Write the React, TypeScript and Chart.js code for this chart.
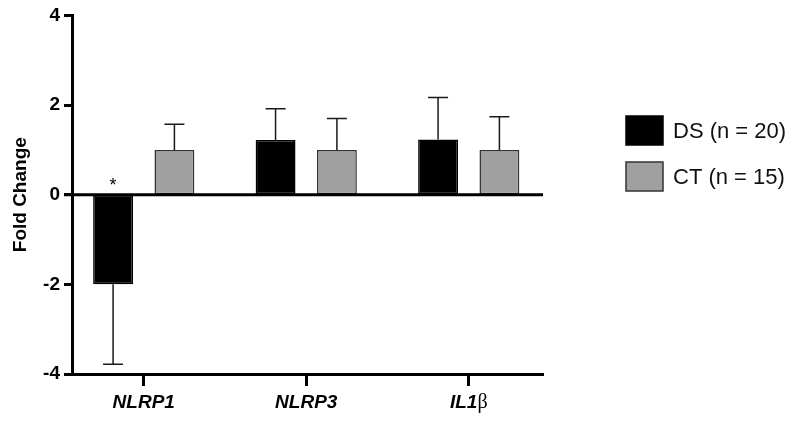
import React, { useEffect, useRef } from 'react';
import { Chart, registerables } from 'chart.js';

Chart.register(...registerables);

// ---- data ----
const categories = ['NLRP1', 'NLRP3', 'IL1β'];
const seriesNames = ['DS (n = 20)', 'CT (n = 15)'];
const dsMean = [-2.0, 1.22, 1.23];
const dsErr = [1.78, 0.7, 0.94];
const ctMean = [1.0, 1.0, 1.0];
const ctErr = [0.57, 0.7, 0.74];
const significance = ['*', '', ''];
const yTicks = [-4, -2, 0, 2, 4];
const yTitle = 'Fold Change';

// ---- styles ----
const SANS = '"Liberation Sans", Arial, Helvetica, sans-serif';
const SERIF = '"Liberation Serif", "DejaVu Serif", serif';
const seriesFill = ['#000000', '#a0a0a0'];
const seriesBorder = ['#000000', '#333333'];
const errs = [dsErr, ctErr];

const overlayPlugin = {
  id: 'overlay',
  afterDatasetsDraw(chart: any) {
    const ctx = chart.ctx as CanvasRenderingContext2D;
    const y = chart.scales.y;
    const area = chart.chartArea;
    ctx.save();
    chart.data.datasets.forEach((ds: any, di: number) => {
      const meta = chart.getDatasetMeta(di);
      meta.data.forEach((bar: any, i: number) => {
        const v = ds.data[i].y as number;
        const e = errs[di][i];
        const end = v + (v < 0 ? -e : e);
        const p0 = y.getPixelForValue(v);
        const p1 = y.getPixelForValue(end);
        ctx.strokeStyle = '#1a1a1a';
        ctx.lineWidth = 1.5;
        ctx.beginPath();
        ctx.moveTo(bar.x, p0);
        ctx.lineTo(bar.x, p1);
        ctx.moveTo(bar.x - 10, p1);
        ctx.lineTo(bar.x + 10, p1);
        ctx.stroke();
      });
    });
    // zero line on top of the bars
    const zy = y.getPixelForValue(0);
    ctx.strokeStyle = '#000';
    ctx.lineWidth = 3;
    ctx.beginPath();
    ctx.moveTo(area.left - 8, zy);
    ctx.lineTo(area.right, zy);
    ctx.stroke();
    // significance marks
    const meta0 = chart.getDatasetMeta(0);
    significance.forEach((s, i) => {
      if (!s) return;
      const bar = meta0.data[i];
      const v = dsMean[i];
      const top = v < 0 ? 0 : v + dsErr[i];
      ctx.font = `18px ${SANS}`;
      ctx.textAlign = 'center';
      ctx.textBaseline = 'alphabetic';
      ctx.fillStyle = '#000';
      ctx.fillText(s, bar.x, y.getPixelForValue(top) - 3.5);
    });
    ctx.restore();
  },
  afterDraw(chart: any) {
    const ctx = chart.ctx as CanvasRenderingContext2D;
    const x = chart.scales.x;
    const area = chart.chartArea;
    ctx.save();
    // category labels (italic gene names, upright greek letter)
    categories.forEach((label, i) => {
      const m = label.match(/^(.*?)([α-ω]*)$/);
      const main = m ? m[1] : label;
      const greek = m ? m[2] : '';
      const fMain = `italic bold 19px ${SANS}`;
      const fGreek = `20px ${SERIF}`;
      ctx.font = fMain;
      const w1 = ctx.measureText(main).width;
      ctx.font = fGreek;
      const w2 = greek ? ctx.measureText(greek).width : 0;
      const cx = x.getPixelForValue(i);
      const sx = cx - (w1 + w2) / 2;
      const by = area.bottom + 34;
      ctx.fillStyle = '#000';
      ctx.textAlign = 'left';
      ctx.textBaseline = 'alphabetic';
      ctx.font = fMain;
      ctx.fillText(main, sx, by);
      if (greek) {
        ctx.font = fGreek;
        ctx.fillText(greek, sx + w1, by);
      }
    });
    // legend
    const lx = area.right + 83;
    const boxW = 37;
    const boxH = 29;
    const rowY = [116, 162];
    seriesNames.forEach((name, i) => {
      const ty = rowY[i];
      ctx.fillStyle = seriesFill[i];
      ctx.fillRect(lx, ty, boxW, boxH);
      ctx.strokeStyle = seriesBorder[i];
      ctx.lineWidth = 1.5;
      ctx.strokeRect(lx, ty, boxW, boxH);
      ctx.fillStyle = '#111';
      ctx.font = `22px ${SANS}`;
      ctx.textAlign = 'left';
      ctx.textBaseline = 'middle';
      ctx.fillText(name, lx + boxW + 10, ty + boxH / 2 + 1);
    });
    ctx.restore();
  },
};

export default function App() {
  const ref = useRef<HTMLCanvasElement>(null);
  useEffect(() => {
    document.body.style.margin = '0';
    const chart = new Chart(ref.current as HTMLCanvasElement, {
      type: 'bar',
      data: {
        datasets: [
          {
            label: seriesNames[0],
            data: dsMean.map((v, i) => ({ x: i, y: v })),
            backgroundColor: seriesFill[0],
            borderColor: seriesBorder[0],
            borderWidth: 1.5,
            borderSkipped: false,
          },
          {
            label: seriesNames[1],
            data: ctMean.map((v, i) => ({ x: i, y: v })),
            backgroundColor: seriesFill[1],
            borderColor: seriesBorder[1],
            borderWidth: 1.5,
            borderSkipped: false,
          },
        ],
      } as any,
      options: {
        responsive: false,
        animation: false,
        events: [],
        layout: { padding: { top: 15, right: 257, left: 0, bottom: 0 } },
        datasets: { bar: { categoryPercentage: 0.755, barPercentage: 0.65 } },
        plugins: { legend: { display: false }, tooltip: { enabled: false } },
        scales: {
          x: {
            type: 'linear',
            min: -0.4415,
            max: 2.457,
            offset: false,
            afterBuildTicks: (s: any) => {
              s.ticks = categories.map((_, i) => ({ value: i }));
            },
            afterFit: (s: any) => {
              s.height = 47;
            },
            ticks: { display: false },
            grid: {
              offset: false,
              drawOnChartArea: false,
              drawTicks: true,
              tickLength: 12,
              tickWidth: 3,
              tickColor: '#000',
              color: '#000',
            },
            border: { display: true, color: '#000', width: 3 },
          },
          y: {
            type: 'linear',
            min: -4,
            max: 4,
            afterBuildTicks: (s: any) => {
              s.ticks = yTicks.map((v) => ({ value: v }));
            },
            afterFit: (s: any) => {
              s.width = 72;
            },
            ticks: {
              color: '#000',
              padding: 4,
              font: { family: SANS, size: 19, weight: 'bold' },
            },
            grid: {
              drawOnChartArea: false,
              color: '#000',
              drawTicks: true,
              tickLength: 8,
              tickWidth: 3,
              tickColor: '#000',
            },
            border: { display: true, color: '#000', width: 3 },
            title: {
              display: true,
              text: yTitle,
              color: '#000',
              font: { family: SANS, size: 19, weight: 'bold', lineHeight: 1 },
              padding: { top: 11, bottom: 0 },
            },
          },
        },
      } as any,
      plugins: [overlayPlugin],
    });
    return () => chart.destroy();
  }, []);
  return (
    <div style={{ position: 'fixed', left: 0, top: 0, width: 800, height: 421, background: '#fff' }}>
      <canvas ref={ref} width={800} height={421} style={{ width: 800, height: 421 }} />
    </div>
  );
}
